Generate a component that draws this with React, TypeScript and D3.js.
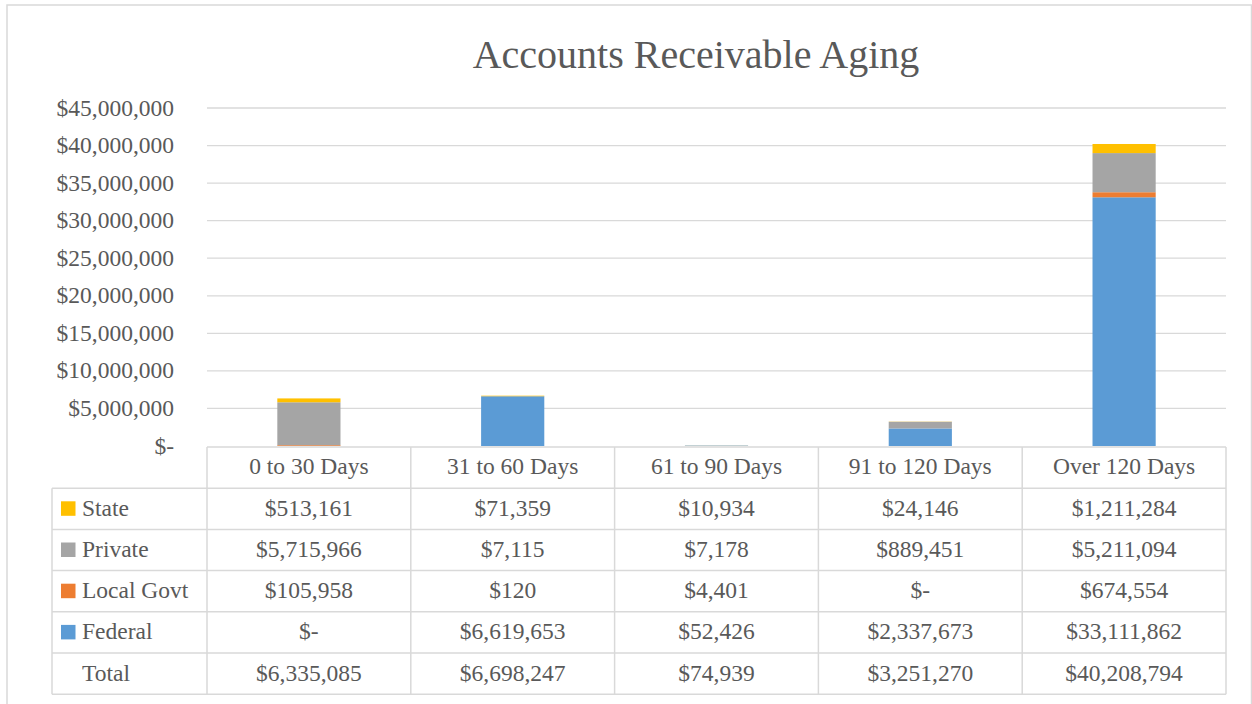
import React from "react";
import * as d3 from "d3";

const categories = ["0 to 30 Days", "31 to 60 Days", "61 to 90 Days", "91 to 120 Days", "Over 120 Days"];
const seriesNames = ["State", "Private", "Local Govt", "Federal"];
const stateValues = [513161, 71359, 10934, 24146, 1211284];
const privateValues = [5715966, 7115, 7178, 889451, 5211094];
const localGovtValues = [105958, 120, 4401, 0, 674554];
const federalValues = [0, 6619653, 52426, 2337673, 33111862];
const yTicks = [0, 5000000, 10000000, 15000000, 20000000, 25000000, 30000000, 35000000, 40000000, 45000000];

const colors: Record<string, string> = {
  State: "#FFC000",
  Private: "#A5A5A5",
  "Local Govt": "#ED7D31",
  Federal: "#5B9BD5",
};

const FONT = "'Liberation Serif', 'Times New Roman', serif";
const TEXT = "#595959";
const LINE = "#D9D9D9";

const fmt = (v: number) => (v === 0 ? "$-" : "$" + d3.format(",")(v));

export default function App() {
  const W = 1252, H = 704;
  const plotLeft = 207, plotRight = 1226, plotTop = 108, plotBottom = 446;
  const x = d3.scaleBand<string>().domain(categories).range([plotLeft, plotRight]).paddingInner(0).paddingOuter(0);
  const y = d3.scaleLinear().domain([0, 45000000]).range([plotBottom, plotTop]);
  const bw = x.bandwidth();
  const barW = bw * 0.31;

  const rows = categories.map((c, i) => ({
    cat: c,
    State: stateValues[i],
    Private: privateValues[i],
    "Local Govt": localGovtValues[i],
    Federal: federalValues[i],
  }));
  const stackKeys = ["Federal", "Local Govt", "Private", "State"];
  const stacked = d3.stack<any>().keys(stackKeys)(rows);

  const seriesData: Record<string, number[]> = {
    State: stateValues,
    Private: privateValues,
    "Local Govt": localGovtValues,
    Federal: federalValues,
  };
  const totals = categories.map((_, i) => stateValues[i] + privateValues[i] + localGovtValues[i] + federalValues[i]);

  const tableTop = 447;
  const rowH = 41.2;
  const legendLeft = 52;
  const tableRows = [...seriesNames, "Total"];
  const tableBottom = tableTop + rowH * (tableRows.length + 1);
  const fs = 23.5;

  return (
    <svg width={W} height={H} style={{ position: "absolute", left: 0, top: 0, background: "#fff" }}>
      <rect x={7} y={5} width={1244.5} height={720} fill="#fff" stroke={LINE} strokeWidth={1.5} />
      <text x={696} y={68} textAnchor="middle" fontFamily={FONT} fontSize={40} fill={TEXT}>
        Accounts Receivable Aging
      </text>
      {yTicks.filter((t) => t > 0).map((t) => (
        <line key={t} x1={plotLeft} x2={plotRight} y1={y(t)} y2={y(t)} stroke={LINE} strokeWidth={1.3} />
      ))}
      {yTicks.map((t) => (
        <text key={"l" + t} x={174} y={y(t) + 7.5} textAnchor="end" fontFamily={FONT} fontSize={fs} fill={TEXT}>
          {fmt(t)}
        </text>
      ))}
      {stacked.map((s) => (
        <g key={s.key} fill={colors[s.key]}>
          {s.map((d, i) => {
            const h = y(d[0]) - y(d[1]);
            if (h <= 0) return null;
            return (
              <rect
                key={i}
                x={(x(categories[i]) as number) + (bw - barW) / 2}
                y={y(d[1])}
                width={barW}
                height={h}
              />
            );
          })}
        </g>
      ))}
      {categories.map((c) => (
        <text key={"h" + c} x={(x(c) as number) + bw / 2} y={tableTop + rowH / 2 + 6.5} textAnchor="middle"
          fontFamily={FONT} fontSize={fs} fill={TEXT}>
          {c}
        </text>
      ))}
      {tableRows.map((r, ri) => {
        const cy = tableTop + rowH * (ri + 1) + rowH / 2;
        const vals = r === "Total" ? totals : seriesData[r];
        return (
          <g key={r}>
            {r !== "Total" && <rect x={61} y={cy - 7.5} width={14.5} height={14.5} fill={colors[r]} />}
            <text x={82} y={cy + 7} textAnchor="start" fontFamily={FONT} fontSize={fs} fill={TEXT}>
              {r}
            </text>
            {categories.map((c, ci) => (
              <text key={c} x={(x(c) as number) + bw / 2} y={cy + 7} textAnchor="middle"
                fontFamily={FONT} fontSize={fs} fill={TEXT}>
                {fmt(vals[ci])}
              </text>
            ))}
          </g>
        );
      })}
      <g stroke={LINE} strokeWidth={1.5} fill="none">
        <line x1={plotLeft} x2={plotRight} y1={tableTop} y2={tableTop} />
        {tableRows.map((r, ri) => (
          <line key={"hl" + r} x1={legendLeft} x2={plotRight} y1={tableTop + rowH * (ri + 1)} y2={tableTop + rowH * (ri + 1)} />
        ))}
        <line x1={legendLeft} x2={plotRight} y1={tableBottom} y2={tableBottom} />
        <line x1={legendLeft} x2={legendLeft} y1={tableTop + rowH} y2={tableBottom} />
        {categories.map((c) => (
          <line key={"v" + c} x1={x(c) as number} x2={x(c) as number} y1={tableTop} y2={tableBottom} />
        ))}
        <line x1={plotRight} x2={plotRight} y1={tableTop} y2={tableBottom} />
      </g>
    </svg>
  );
}
